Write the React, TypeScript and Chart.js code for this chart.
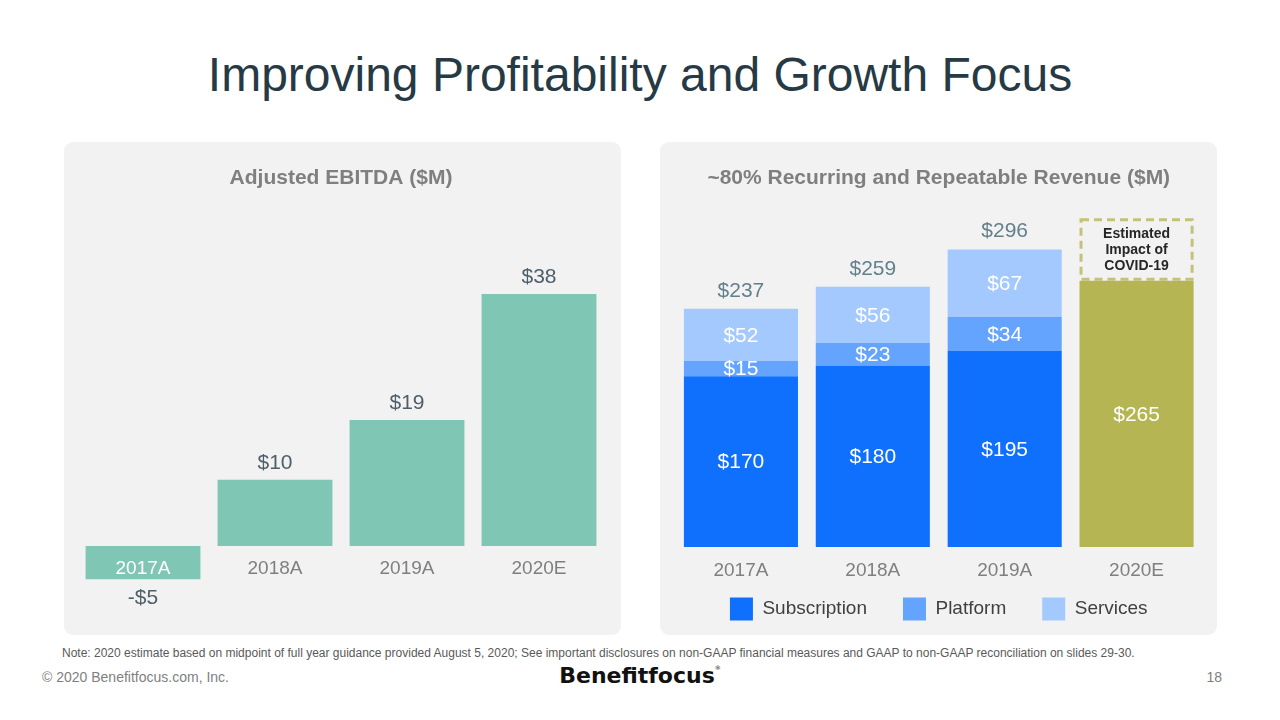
import React, { useEffect, useRef } from "react";
import { Chart, registerables } from "chart.js";

Chart.register(...registerables);

// ---------- data ----------
const categories = ["2017A", "2018A", "2019A", "2020E"];
const ebitdaValues = [-5, 10, 19, 38];

const seriesNames = ["Subscription", "Platform", "Services"];
const subscription = [170, 180, 195, null];
const platform = [15, 23, 34, null];
const services = [52, 56, 67, null];
const estimate2020 = [null, null, null, 265];
const covidImpact = [null, null, null, 62];
const revenueTotals = [237, 259, 296, null];
const covidLabel = ["Estimated", "Impact of", "COVID-19"];

const FONT = "'Liberation Sans', Arial, Helvetica, sans-serif";

const COLORS = {
  ebitda: "#80C6B4",
  subscription: "#0F70FE",
  platform: "#64A4FE",
  services: "#A3C9FE",
  estimate: "#B6B553",
  dash: "#C2C27A",
};

function fmt(v: number) {
  return v < 0 ? "-$" + Math.abs(v) : "$" + v;
}

const ebitdaLabels = {
  id: "ebitdaLabels",
  afterDatasetsDraw(chart: any) {
    const { ctx } = chart;
    const meta = chart.getDatasetMeta(0);
    ctx.save();
    ctx.font = "21px " + FONT;
    ctx.fillStyle = "#4F5F6A";
    ctx.textAlign = "center";
    ctx.textBaseline = "middle";
    meta.data.forEach((el: any, i: number) => {
      const v = ebitdaValues[i];
      const y = v >= 0 ? el.y - 17 : el.y + 19;
      ctx.fillText(fmt(v), el.x, y);
    });
    ctx.restore();
  },
};

const revenueLabels = {
  id: "revenueLabels",
  afterDatasetsDraw(chart: any) {
    const { ctx } = chart;
    ctx.save();
    ctx.textAlign = "center";
    ctx.textBaseline = "middle";
    // segment labels
    ctx.font = "21px " + FONT;
    ctx.fillStyle = "#FFFFFF";
    for (let d = 0; d < 4; d++) {
      const meta = chart.getDatasetMeta(d);
      const data = chart.data.datasets[d].data;
      meta.data.forEach((el: any, i: number) => {
        const v = data[i];
        if (v == null) return;
        const yMid = (el.y + el.base) / 2;
        ctx.fillText(fmt(v), el.x, yMid + 1);
      });
    }
    // totals
    ctx.fillStyle = "#64808C";
    const topMeta = chart.getDatasetMeta(2);
    topMeta.data.forEach((el: any, i: number) => {
      const t = revenueTotals[i];
      if (t == null) return;
      ctx.fillText(fmt(t), el.x, el.y - 18);
    });
    // covid impact dashed box
    const im = chart.getDatasetMeta(4);
    im.data.forEach((el: any, i: number) => {
      if (covidImpact[i] == null) return;
      const w = el.width;
      const left = el.x - w / 2;
      const top = el.y;
      const h = el.base - el.y;
      ctx.strokeStyle = COLORS.dash;
      ctx.lineWidth = 3;
      ctx.setLineDash([8, 5]);
      ctx.strokeRect(left + 1.5, top + 1.5, w - 3, h - 3);
      ctx.setLineDash([]);
      ctx.fillStyle = "#262626";
      ctx.font = "bold 14px " + FONT;
      const cy = top + h / 2 + 1;
      covidLabel.forEach((line, k) => {
        ctx.fillText(line, el.x, cy + (k - 1) * 16);
      });
    });
    ctx.restore();
  },
};

function EbitdaChart() {
  const ref = useRef<HTMLCanvasElement | null>(null);
  useEffect(() => {
    if (!ref.current) return;
    const chart = new Chart(ref.current, {
      type: "bar",
      data: {
        labels: categories,
        datasets: [
          {
            label: "Adjusted EBITDA",
            data: ebitdaValues,
            backgroundColor: COLORS.ebitda,
            borderWidth: 0,
            categoryPercentage: 1,
            barPercentage: 0.87,
          },
        ],
      },
      options: {
        animation: false,
        responsive: false,
        devicePixelRatio: 1,
        layout: { padding: { left: 13, right: 16, top: 0, bottom: 29.3 } },
        plugins: {
          legend: { display: false },
          tooltip: { enabled: false },
          title: {
            display: true,
            text: "Adjusted EBITDA ($M)",
            color: "#7F7F7F",
            font: { family: FONT, size: 21, weight: "bold" },
            padding: { top: 23.4, bottom: 10.6 },
          },
        },
        scales: {
          x: {
            position: { y: 0 } as any,
            grid: { display: false, drawTicks: false },
            border: { display: false },
            ticks: {
              z: 1,
              padding: 11.3,
              font: { family: FONT, size: 19 },
              color: (c: any) => (c.index === 0 ? "#FFFFFF" : "#7F7F7F"),
            },
          },
          y: { display: false, min: -9, max: 52 },
        },
      },
      plugins: [ebitdaLabels],
    } as any);
    return () => chart.destroy();
  }, []);
  return <canvas ref={ref} width={557} height={493} style={{ position: "absolute", left: 64, top: 142 }} />;
}

function RevenueChart() {
  const ref = useRef<HTMLCanvasElement | null>(null);
  useEffect(() => {
    if (!ref.current) return;
    const common = { borderWidth: 0, categoryPercentage: 1, barPercentage: 0.865, stack: "s" };
    const chart = new Chart(ref.current, {
      type: "bar",
      data: {
        labels: categories,
        datasets: [
          { label: seriesNames[0], data: subscription, backgroundColor: COLORS.subscription, borderColor: COLORS.subscription, ...common },
          { label: seriesNames[1], data: platform, backgroundColor: COLORS.platform, borderColor: COLORS.platform, ...common },
          { label: seriesNames[2], data: services, backgroundColor: COLORS.services, borderColor: COLORS.services, ...common },
          { label: "2020E", data: estimate2020, backgroundColor: COLORS.estimate, borderColor: COLORS.estimate, ...common },
          { label: "Impact", data: covidImpact, backgroundColor: "rgba(0,0,0,0)", borderColor: "rgba(0,0,0,0)", ...common },
        ],
      },
      options: {
        animation: false,
        responsive: false,
        devicePixelRatio: 1,
        layout: { padding: { left: 15, right: 14.5, top: 0, bottom: 4.5 } },
        plugins: {
          tooltip: { enabled: false },
          title: {
            display: true,
            text: "~80% Recurring and Repeatable Revenue ($M)",
            color: "#7F7F7F",
            font: { family: FONT, size: 21, weight: "bold" },
            padding: { top: 23.4, bottom: 14.7 },
          },
          legend: {
            display: true,
            position: "bottom",
            labels: {
              filter: (item: any) => item.datasetIndex < 3,
              boxWidth: 23,
              boxHeight: 23,
              padding: 36,
              color: "#404040",
              font: { family: FONT, size: 19 },
            },
          },
        },
        scales: {
          x: {
            stacked: true,
            position: { y: 0 } as any,
            grid: { display: false, drawTicks: false },
            border: { display: false },
            ticks: {
              padding: 12.2,
              font: { family: FONT, size: 19 },
              color: "#7F7F7F",
            },
          },
          y: { stacked: true, display: false, min: -14.4, max: 340 },
        },
      },
      plugins: [revenueLabels],
    } as any);
    return () => chart.destroy();
  }, []);
  return <canvas ref={ref} width={557} height={493} style={{ position: "absolute", left: 660, top: 142 }} />;
}

export default function App() {
  const panel: React.CSSProperties = {
    position: "absolute",
    top: 142,
    width: 557,
    height: 493,
    background: "#F2F2F2",
    borderRadius: 9,
  };
  return (
    <div
      style={{
        position: "fixed",
        left: 0,
        top: 0,
        width: 1280,
        height: 720,
        background: "#FFFFFF",
        fontFamily: FONT,
        overflow: "hidden",
      }}
    >
      <div
        style={{
          position: "absolute",
          left: 0,
          top: 50,
          width: 1280,
          textAlign: "center",
          fontSize: 48,
          lineHeight: "50px",
          color: "#263A45",
        }}
      >
        Improving Profitability and Growth Focus
      </div>
      <div style={{ ...panel, left: 64 }} />
      <div style={{ ...panel, left: 660 }} />
      <EbitdaChart />
      <RevenueChart />
      <div
        style={{
          position: "absolute",
          left: 62,
          top: 646,
          fontSize: 12,
          lineHeight: "14px",
          color: "#595959",
          whiteSpace: "nowrap",
        }}
      >
        Note: 2020 estimate based on midpoint of full year guidance provided August 5, 2020; See important disclosures on non-GAAP financial measures and GAAP to non-GAAP reconciliation on slides 29-30.
      </div>
      <div
        style={{
          position: "absolute",
          left: 42,
          top: 668,
          fontSize: 14,
          lineHeight: "18px",
          color: "#7F7F7F",
          whiteSpace: "nowrap",
        }}
      >
        © 2020 Benefitfocus.com, Inc.
      </div>
      <div
        style={{
          position: "absolute",
          left: 1192,
          width: 30,
          top: 668,
          fontSize: 14,
          lineHeight: "18px",
          color: "#7F7F7F",
          textAlign: "right",
        }}
      >
        18
      </div>
      <div
        style={{
          position: "absolute",
          left: 540,
          width: 200,
          top: 662,
          textAlign: "center",
          fontFamily: "'DejaVu Sans', " + FONT,
          fontWeight: "bold",
          fontSize: 22,
          lineHeight: "28px",
          color: "#111111",
          whiteSpace: "nowrap",
        }}
      >
        Benefitfocus<sup style={{ fontSize: 6, verticalAlign: "top", lineHeight: "12px", fontWeight: "normal" }}>®</sup>
      </div>
    </div>
  );
}
